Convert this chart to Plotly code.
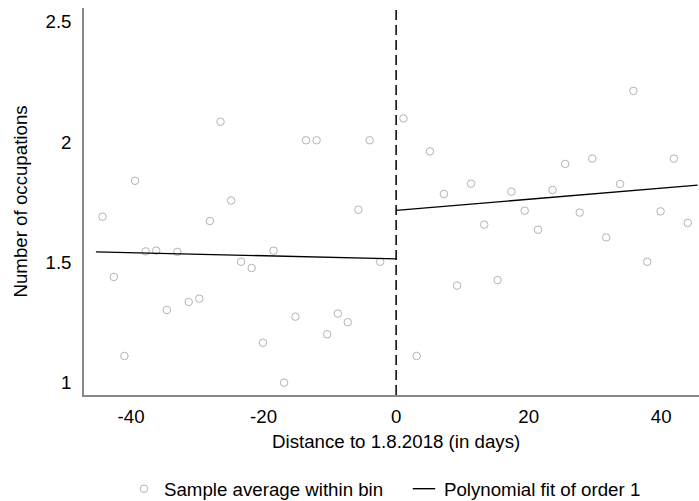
import plotly.graph_objects as go

# Binned sample averages (left and right of cutoff)
left_x = [-44.3, -42.6, -41.0, -39.4, -37.8, -36.2, -34.6, -33.0, -31.3, -29.7, -28.1, -26.5, -24.9,
          -23.4, -21.8, -20.1, -18.5, -16.9, -15.2, -13.6, -12.0, -10.4, -8.8, -7.3, -5.7, -4.0, -2.4]
left_y = [1.690, 1.440, 1.112, 1.839, 1.546, 1.549, 1.303, 1.544, 1.336, 1.350, 1.672, 2.084, 1.757,
          1.503, 1.477, 1.167, 1.549, 1.001, 1.275, 2.007, 2.007, 1.202, 1.288, 1.252, 1.719, 2.007, 1.503]
right_x = [1.1, 3.1, 5.1, 7.2, 9.2, 11.3, 13.3, 15.3, 17.4, 19.4, 21.4, 23.6, 25.5, 27.7, 29.6,
           31.7, 33.8, 35.8, 37.9, 39.9, 41.9, 44.0]
right_y = [2.098, 1.112, 1.961, 1.784, 1.404, 1.827, 1.657, 1.427, 1.794, 1.715, 1.636, 1.801, 1.909,
           1.707, 1.931, 1.604, 1.826, 2.212, 1.503, 1.712, 1.931, 1.664]

# Polynomial fit (order 1) endpoints
fit_left_x = [-45.3, 0]
fit_left_y = [1.544, 1.515]
fit_right_x = [0, 45.5]
fit_right_y = [1.716, 1.821]

y_tickvals = [1, 1.5, 2, 2.5]
y_ticktext = ["1", "1.5", "2", "2.5"]
x_tickvals = [-40, -20, 0, 20, 40]
x_ticktext = ["-40", "-20", "0", "20", "40"]

cutoff = 0

font = "Liberation Sans, Arial, sans-serif"
fs = 18.7
marker_color = "#b3b3b3"

fig = go.Figure()
fig.add_trace(go.Scatter(x=left_x + right_x, y=left_y + right_y, mode="markers",
                         marker=dict(symbol="circle-open", size=7.5, color=marker_color,
                                     line=dict(width=1, color=marker_color)),
                         name="Sample average within bin", showlegend=True))
fig.add_trace(go.Scatter(x=fit_left_x, y=fit_left_y, mode="lines",
                         line=dict(color="black", width=1.4),
                         name="Polynomial fit of order 1", showlegend=False))
fig.add_trace(go.Scatter(x=fit_right_x, y=fit_right_y, mode="lines",
                         line=dict(color="black", width=1.4),
                         name="Polynomial fit of order 1", showlegend=False))
# legend entry for the fit (short line symbol)
fig.add_trace(go.Scatter(x=[None], y=[None], mode="markers",
                         marker=dict(symbol="line-ew", size=17, color="black",
                                     line=dict(width=1.4, color="black")),
                         name="Polynomial fit of order 1", showlegend=True))

fig.add_shape(type="line", x0=cutoff, x1=cutoff, xref="x", yref="paper", y0=0, y1=1,
              line=dict(color="black", width=1.5, dash="10px,5px"))

fig.add_annotation(text="Distance to 1.8.2018 (in days)", xref="paper", yref="paper",
                   x=0.507, y=-0.119, xanchor="center", yanchor="middle", showarrow=False,
                   font=dict(size=fs))
fig.add_annotation(text="Number of occupations", xref="paper", yref="paper",
                   x=-0.104, y=0.5, xanchor="center", yanchor="middle", showarrow=False,
                   textangle=-90, font=dict(size=fs))

fig.update_layout(
    width=699, height=501,
    margin=dict(l=84, r=0, t=8, b=106, autoexpand=False),
    plot_bgcolor="white", paper_bgcolor="white",
    font=dict(family=font, size=fs, color="black"),
    xaxis=dict(range=[-47.1, 45.7], tickvals=x_tickvals, ticktext=x_ticktext, showgrid=False,
               zeroline=False, showline=True, linecolor="#888888", linewidth=1.5, ticks="",
               automargin=False, ticklabelstandoff=4),
    yaxis=dict(range=[0.95, 2.556], tickvals=y_tickvals, ticktext=y_ticktext, showgrid=False,
               zeroline=False, showline=True, linecolor="#888888", linewidth=1.5, ticks="",
               automargin=False, ticklabelstandoff=7),
    legend=dict(orientation="h", x=0.065, xanchor="left", y=-0.243, yanchor="middle",
                font=dict(size=fs), tracegroupgap=0, entrywidth=235, entrywidthmode="pixels"),
    showlegend=True,
)

fig.write_html("out.html", config={"displayModeBar": False},
               post_script="document.body.style.margin='0px';")
